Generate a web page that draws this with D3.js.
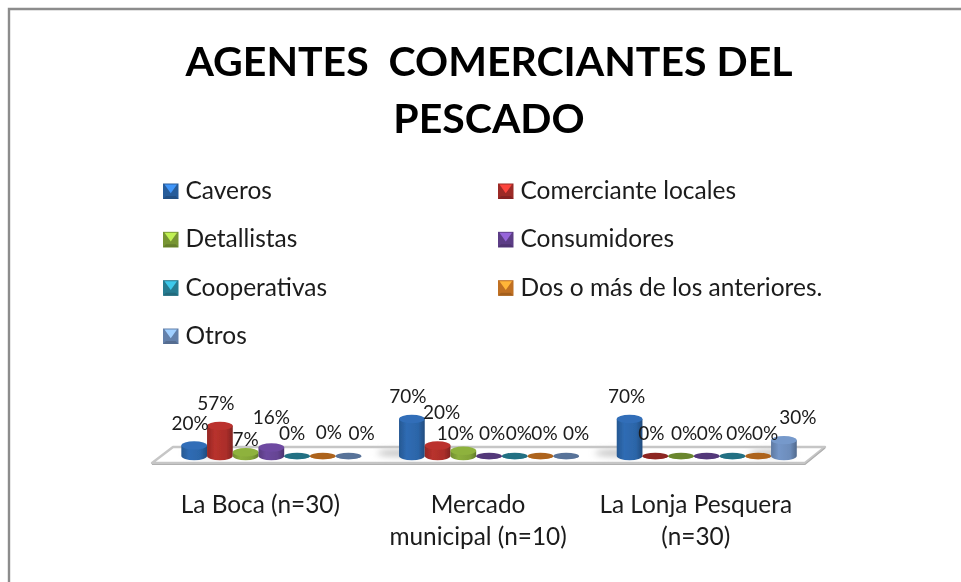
<!DOCTYPE html>
<html><head><meta charset="utf-8">
<script src="https://cdn.jsdelivr.net/npm/d3@7"></script>
<style>html,body{margin:0;padding:0;background:#fff;overflow:hidden}svg{display:block}text{font-family:Lato,"Open Sans",sans-serif;fill:#1a1a1a}</style>
</head><body><svg id="c" width="961" height="582"></svg>
<script>
const titleLines = ["AGENTES  COMERCIANTES DEL", "PESCADO"];
const categories = ["La Boca (n=30)", "Mercado municipal (n=10)", "La Lonja Pesquera (n=30)"];
const categoryLines = [["La Boca (n=30)"], ["Mercado", "municipal (n=10)"], ["La Lonja Pesquera", "(n=30)"]];
const seriesNames = ["Caveros", "Comerciante locales", "Detallistas", "Consumidores", "Cooperativas", "Dos o más de los anteriores.", "Otros"];
const caveros = [20, 70, 70];
const comerciantes = [57, 20, 0];
const detallistas = [7, 10, 0];
const consumidores = [16, 0, 0];
const cooperativas = [0, 0, 0];
const dosOMas = [0, 0, 0];
const otros = [0, 0, 30];
const seriesValues = [caveros, comerciantes, detallistas, consumidores, cooperativas, dosOMas, otros];
const seriesColors = ["#2c65a8", "#ab2e2a", "#82a338", "#654493", "#2a889f", "#d27a26", "#6c8cba"];
// hand-placed data label nudges (dx, dy from bar top), chart-application style layout
const labelNudge = [
  [[-4,-15],[-4,-16],[-3,-16]],
  [[-4,-16],[4,-26],[-4,-16]],
  [[0,-6],[-8,-11],[3,-16]],
  [[0,-24],[3,-16],[3,-16]],
  [[-5,-16],[4,-16],[7,-16]],
  [[6,-17],[4,-16],[7,-16]],
  [[13,-16],[10,-16],[14,-16]]
];

const svg = d3.select("#c");
const defs = svg.append("defs");
const blur = defs.append("filter").attr("id","soft").attr("x","-5%").attr("y","-5%").attr("width","110%").attr("height","110%");
blur.append("feGaussianBlur").attr("stdDeviation",0.45);
const sh = defs.append("filter").attr("id","sh").attr("x","-20%").attr("y","-100%").attr("width","140%").attr("height","300%");
sh.append("feGaussianBlur").attr("stdDeviation",3);

seriesColors.forEach((c,i)=>{
  const g = defs.append("linearGradient").attr("id","cyl"+i);
  const col = d3.color(c);
  [[0,col.darker(0.4)],[0.3,col.brighter(0.2)],[0.75,col],[1,col.darker(0.8)]].forEach(([o,k])=>
    g.append("stop").attr("offset",o).attr("stop-color",k.formatHex()));
});

const root = svg.append("g").attr("filter","url(#soft)");
// frame
root.append("path").attr("d","M9,582V9H961").attr("fill","none").attr("stroke","#8c8c8c").attr("stroke-width",2.4);

// title
root.append("g").selectAll("text").data(titleLines).join("text")
  .attr("x",489).attr("y",(d,i)=>76+i*57).attr("text-anchor","middle")
  .attr("font-size",41).attr("font-weight",700).style("fill","#000")
  .style("white-space","pre").attr("xml:space","preserve").text(d=>d);

// legend
const legendX = d3.scalePoint().domain([0,1]).range([163,498]);
const legendY = d3.scalePoint().domain([0,1,2,3]).range([191,336]);
const leg = root.append("g").selectAll("g").data(seriesNames).join("g")
  .attr("transform",(d,i)=>`translate(${legendX(i%2)},${legendY(Math.floor(i/2))})`);
leg.each(function(d,i){
  const g = d3.select(this), c = d3.color(seriesColors[i]), s=15.5;
  const y0=-7.5;
  g.append("rect").attr("y",y0).attr("width",s).attr("height",s).attr("fill",c.darker(0.25).formatHex());
  g.append("path").attr("d",`M1.5,${y0+1}H${s-1.5}L${s/2},${y0+s/2+2}Z`).attr("fill",c.brighter(1.1).formatHex());
  g.append("path").attr("d",`M0,${y0+s}H${s}L${s-3},${y0+s-3}H3Z`).attr("fill",c.darker(0.7).formatHex());
});
leg.append("text").attr("x",22.5).attr("y",8).attr("font-size",24.5).text(d=>d);

// scales
const x0 = d3.scaleBand().domain(categories).range([162.5,815.6]).paddingInner(0.173).paddingOuter(0.0865);
const x1 = d3.scaleBand().domain(seriesNames).range([0,x0.bandwidth()]);
const y = d3.scaleLinear().domain([0,70]).range([456,419]);
const rx = x1.bandwidth()/2, ry = 4.2;

// floor
const floorFront = 463, floorBack = 447;
root.append("path").attr("d",`M152,${floorFront}L173,${floorBack}H825L805,${floorFront}Z`)
  .attr("fill","#fff").attr("stroke","#c6c6c6").attr("stroke-width",2.4).attr("stroke-linejoin","round");
root.append("path").attr("d",`M152,${floorFront+1.5}H805L825,${floorBack+1}`).attr("fill","none").attr("stroke","#b0b0b0").attr("stroke-width",1.2);

// shadows
const flat = categories.flatMap((c,ci)=>seriesNames.map((s,si)=>({c,ci,s,si,v:seriesValues[si][ci]})));
root.append("g").attr("filter","url(#sh)").selectAll("ellipse").data(flat.filter(d=>d.v>=30)).join("ellipse")
  .attr("cx",d=>x0(d.c)+x1(d.s)+rx-12).attr("cy",453).attr("rx",rx+10).attr("ry",3.5).attr("fill","#c4c4c4");

// bars
const bars = root.append("g").selectAll("g").data(flat).join("g")
  .attr("transform",d=>`translate(${x0(d.c)+x1(d.s)+rx},0)`);
bars.append("path").attr("d",d=>{
  const t=y(d.v), b=y(0);
  return `M${-rx},${t}V${b}A${rx},${d.v?ry:3.2} 0 0 0 ${rx},${b}V${t}Z`;
}).attr("fill",d=>`url(#cyl${d.si})`);
bars.append("ellipse").attr("cy",d=>y(d.v)).attr("rx",rx).attr("ry",d=>d.v?ry:3.2)
  .attr("fill",d=>d.v===0
    ? d3.color(seriesColors[d.si]).darker(0.55).formatHex()
    : d3.color(seriesColors[d.si]).brighter(0.25).formatHex());

// data labels
root.append("g").selectAll("text").data(flat).join("text")
  .attr("x",d=>x0(d.c)+x1(d.s)+rx+labelNudge[d.si][d.ci][0])
  .attr("y",d=>y(d.v)+labelNudge[d.si][d.ci][1])
  .attr("text-anchor","middle").attr("font-size",19).text(d=>d.v+"%");

// category axis
const axis = root.append("g").attr("transform","translate(-11,468)").call(d3.axisBottom(x0).tickSize(0));
axis.select(".domain").remove();
axis.selectAll(".tick text").attr("font-size",24.4).attr("y",0).attr("dy",null).style("font-family",null).each(function(d,i){
  const t=d3.select(this).text(null);
  categoryLines[i].forEach((l,j)=>t.append("tspan").attr("x",0).attr("y",45+j*32).text(l));
});
</script></body></html>
